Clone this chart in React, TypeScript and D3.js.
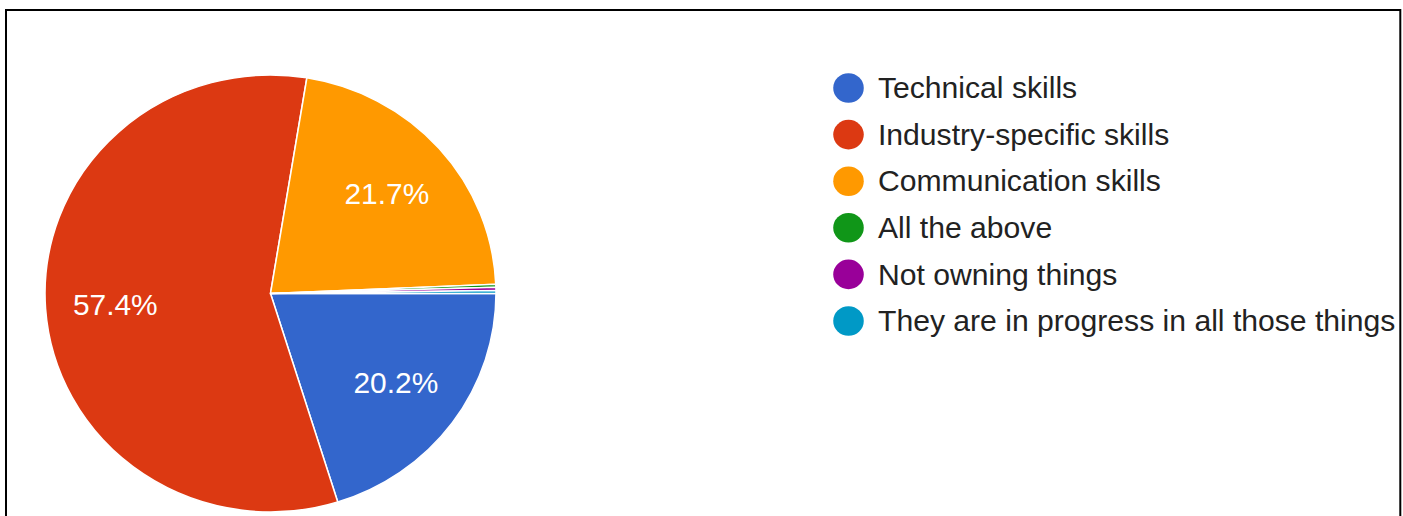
import React from "react";
import * as d3 from "d3";

const categories = [
  "Technical skills",
  "Industry-specific skills",
  "Communication skills",
  "All the above",
  "Not owning things",
  "They are in progress in all those things",
];
const values = [90, 256, 97, 1, 1, 1];
const colors = ["#3366cc", "#dc3912", "#ff9900", "#109618", "#990099", "#0099c6"];

const W = 1403;
const H = 516;
const SX = 1.032;

export default function App() {
  const cx = 270.5 / SX;
  const cy = 293.5;
  const r = 218.5;
  const total = d3.sum(values);
  const pie = d3
    .pie<number>()
    .sort(null)
    .startAngle(Math.PI / 2)
    .endAngle(Math.PI / 2 + Math.PI * 2)(values);
  const arc = d3.arc<d3.PieArcDatum<number>>().innerRadius(0).outerRadius(r);
  const labelArc = d3
    .arc<d3.PieArcDatum<number>>()
    .innerRadius(r * 0.69)
    .outerRadius(r * 0.69);
  const legendX = 848.5 / SX;
  const legendTextX = 878 / SX;
  const legendY0 = 88;
  const legendStep = 46.6;

  return (
    <svg
      width={W}
      height={H}
      style={{ position: "absolute", left: 0, top: 0, background: "#fff" }}
      fontFamily="'Liberation Sans', Arial, sans-serif"
    >
      <rect x={0} y={0} width={W} height={H} fill="#fff" />
      <g transform={`scale(${SX},1)`}>
        <g transform={`translate(${cx},${cy})`}>
          {pie.map((d, i) => (
            <path
              key={i}
              d={arc(d) || ""}
              fill={colors[i]}
              stroke="#fff"
              strokeWidth={1.5}
            />
          ))}
          {pie.map((d, i) => {
            const pct = (values[i] / total) * 100;
            if (pct < 5) return null;
            const [lx, ly] = labelArc.centroid(d);
            return (
              <text
                key={"l" + i}
                x={lx}
                y={ly}
                dy="0.36em"
                textAnchor="middle"
                fill="#fff"
                fontSize={29}
              >
                {pct.toFixed(1) + "%"}
              </text>
            );
          })}
        </g>
        {categories.map((c, i) => (
          <g key={c}>
            <circle
              cx={legendX}
              cy={legendY0 + i * legendStep}
              r={14.8}
              fill={colors[i]}
            />
            <text
              x={legendTextX}
              y={legendY0 + i * legendStep}
              dy="0.35em"
              fontSize={29.2}
              fill="#222"
            >
              {c}
            </text>
          </g>
        ))}
      </g>
      <path
        d={`M6,${H + 5} V10 H1400.3 V${H + 5}`}
        fill="none"
        stroke="#000"
        strokeWidth={2}
      />
    </svg>
  );
}
